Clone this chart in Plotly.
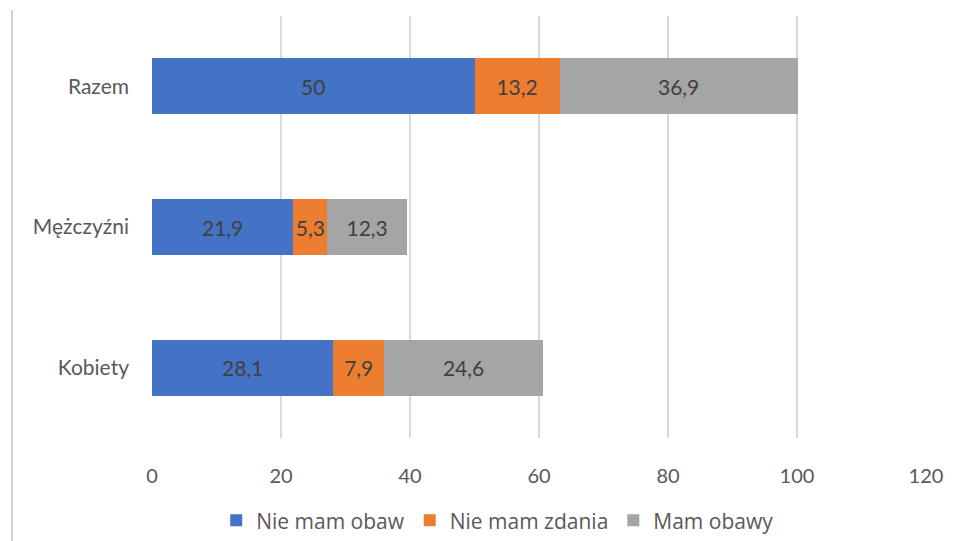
import plotly.graph_objects as go

categories = ["Kobiety", "Mężczyźni", "Razem"]
nie_mam_obaw = [28.1, 21.9, 50]
nie_mam_zdania = [7.9, 5.3, 13.2]
mam_obawy = [24.6, 12.3, 36.9]
x_ticks = [0, 20, 40, 60, 80, 100, 120]

series = [
    ("Nie mam obaw", nie_mam_obaw, "#4472C4"),
    ("Nie mam zdania", nie_mam_zdania, "#ED7D31"),
    ("Mam obawy", mam_obawy, "#A5A5A5"),
]

FONT = "Lato, 'Open Sans', sans-serif"
LFONT = "'Open Sans', Lato, sans-serif"

fig = go.Figure()
for name, vals, col in series:
    fig.add_trace(go.Bar(
        y=categories, x=vals, name=name, orientation="h",
        marker=dict(color=col, line=dict(width=0)),
        text=[str(v).replace(".", ",") for v in vals],
        textposition="inside", insidetextanchor="middle",
        textangle=0, constraintext="none",
        textfont=dict(color="#404040", size=21, family=FONT),
        hoverinfo="skip",
    ))

# page has an 8px body margin, so margins are shifted accordingly
fig.update_layout(
    barmode="stack",
    bargap=0.6,
    width=965, height=541,
    margin=dict(l=144, r=47, t=8, b=109),
    paper_bgcolor="white", plot_bgcolor="white",
    font=dict(family=FONT, color="#595959", size=20),
    showlegend=True,
    legend=dict(orientation="h", x=0.446, xanchor="center", y=-0.196, yanchor="middle",
                font=dict(size=21, color="#595959", family=LFONT), traceorder="normal",
                itemwidth=30),
    separators=", ",
    xaxis=dict(range=[0, 120], tickvals=x_ticks, showgrid=True, gridcolor="#D9D9D9",
               gridwidth=2, zeroline=False, showline=False, ticks="",
               ticklabelstandoff=24, tickfont=dict(size=20, color="#595959")),
    yaxis=dict(showgrid=False, zeroline=False, showline=False, ticks="",
               ticklabelstandoff=22, tickfont=dict(size=21, color="#595959")),
    shapes=[dict(type="line", xref="paper", yref="paper",
                 x0=-140/774, x1=-140/774, y0=-110/424, y1=(440-10)/424,
                 line=dict(color="#D0D0D0", width=2))],
)

fig.write_html("out.html")
